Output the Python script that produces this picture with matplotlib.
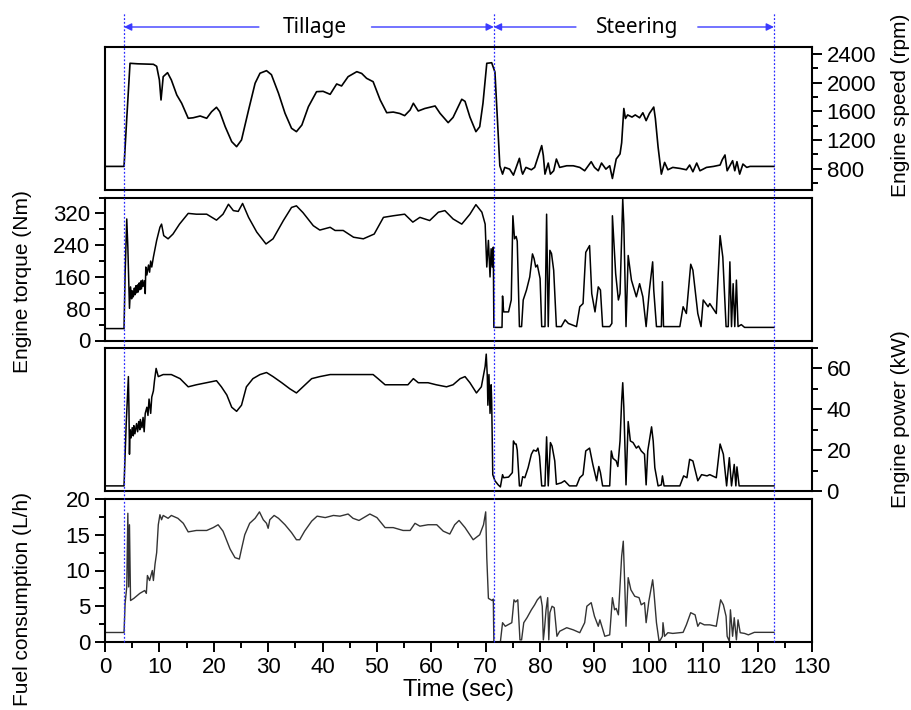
import numpy as np
import matplotlib
matplotlib.use('Agg')
import matplotlib.pyplot as plt
import matplotlib.transforms as mtransforms
from matplotlib.lines import Line2D
from matplotlib.patches import FancyArrowPatch
from matplotlib.ticker import MultipleLocator

# data (time in sec, value)
speed_pts = [(0, 830), (3.5, 830), (4.0, 1500), (4.6, 2272), (6.0, 2265), (7.5, 2262),
             (8.9, 2258), (9.5, 2230), (10.0, 2039), (10.3, 1759), (10.7, 2085), (11.5, 2141),
             (12.2, 2039), (13.2, 1829), (14.1, 1713), (15.3, 1503), (16.2, 1510), (17.5, 1535),
             (18.7, 1503), (19.6, 1595), (20.5, 1657), (21.1, 1595), (22.1, 1386), (23.3, 1176),
             (24.2, 1106), (25.1, 1200), (26.4, 1619), (27.6, 1993), (28.5, 2133), (29.7, 2169),
             (30.6, 2113), (31.9, 1853), (33.1, 1573), (34.3, 1363), (35.2, 1316), (36.2, 1409),
             (37.4, 1665), (38.9, 1875), (40.1, 1880), (41.4, 1838), (42.6, 1983), (43.5, 1955),
             (44.7, 2085), (46.3, 2155), (47.2, 2130), (48.1, 2062), (49.3, 2015), (50.6, 1759),
             (51.8, 1581), (53.0, 1590), (54.2, 1570), (55.1, 1540), (56.1, 1619), (56.7, 1713),
             (57.6, 1605), (58.8, 1640), (60.7, 1675), (61.6, 1573), (63.1, 1442), (64.0, 1515),
             (65.6, 1769), (66.2, 1740), (67.1, 1520), (68.2, 1316), (68.9, 1385), (69.5, 1713),
             (70.2, 2272), (71.1, 2280), (71.7, 2150), (72.6, 839), (73.1, 722), (73.5, 816),
             (74.4, 792), (75.1, 708), (75.6, 816), (76.2, 943), (76.6, 769), (76.8, 722),
             (77.4, 816), (78.4, 783), (79.0, 816), (79.7, 980), (80.3, 1121), (80.6, 980),
             (80.9, 722), (81.5, 877), (81.9, 722), (82.5, 769), (83.0, 933), (83.6, 816),
             (84.9, 839), (86.1, 839), (87.3, 816), (88.2, 769), (89.4, 896), (90.0, 816),
             (90.7, 769), (91.3, 877), (92.1, 792), (92.8, 839), (93.3, 661), (94.0, 933),
             (94.7, 1004), (95.0, 1160), (95.4, 1640), (95.7, 1500), (96.1, 1550), (96.9, 1520),
             (97.5, 1550), (98.3, 1510), (98.9, 1580), (99.5, 1470), (100.1, 1570), (100.9, 1660),
             (101.2, 1500), (101.7, 1100), (102.3, 722), (102.9, 886), (103.5, 783), (104.4, 816),
             (105.7, 802), (106.9, 783), (107.5, 849), (108.1, 755), (108.8, 877), (109.4, 769),
             (110.6, 816), (111.9, 830), (113.1, 849), (113.5, 924), (114.0, 990), (114.4, 769),
             (114.9, 839), (115.4, 910), (115.8, 769), (116.2, 896), (116.7, 722), (117.3, 863),
             (118.0, 816), (118.6, 830), (123.0, 830)]

torque_pts = [(0, 30), (3.5, 30), (3.7, 168), (4.0, 306), (4.2, 235), (4.5, 81), (4.7, 135),
              (4.9, 105), (5.0, 125), (5.2, 110), (5.4, 132), (5.5, 115), (5.7, 138), (5.8, 120),
              (6.0, 140), (6.1, 122), (6.3, 145), (6.4, 128), (6.6, 150), (6.7, 130), (6.9, 152),
              (7.0, 136), (7.3, 150), (7.4, 118), (7.5, 185), (7.7, 165), (8.0, 190), (8.2, 172),
              (8.4, 200), (8.6, 185), (8.9, 210), (9.5, 252), (10.1, 285), (10.4, 293),
              (10.8, 264), (11.6, 256), (12.5, 268), (13.7, 293), (15.3, 320), (16.8, 318),
              (18.7, 318), (20.5, 303), (21.7, 318), (22.7, 343), (23.6, 327), (24.5, 325),
              (25.3, 345), (26.4, 310), (27.9, 273), (29.1, 252), (29.6, 243), (30.9, 256),
              (32.8, 302), (34.3, 335), (35.2, 339), (36.4, 322), (38.3, 289), (39.5, 278),
              (41.4, 285), (42.3, 277), (43.8, 277), (45.7, 260), (47.5, 256), (49.5, 268),
              (51.2, 310), (53.0, 314), (55.1, 318), (56.6, 298), (57.9, 310), (59.7, 302),
              (61.3, 323), (62.5, 327), (64.0, 306), (65.6, 293), (67.1, 318), (68.2, 342),
              (69.3, 323), (69.9, 293), (70.2, 185), (70.5, 252), (70.8, 160), (71.0, 231),
              (71.2, 185), (71.4, 235), (71.5, 33), (73.0, 33), (73.1, 112), (73.3, 72),
              (74.2, 72), (74.7, 102), (75.0, 314), (75.3, 256), (75.6, 262), (75.8, 250),
              (76.2, 35), (76.6, 35), (76.9, 102), (77.5, 127), (78.1, 160), (78.6, 218),
              (78.9, 206), (79.2, 185), (79.5, 190), (80.0, 156), (80.3, 35), (80.9, 35),
              (81.2, 318), (81.5, 35), (81.8, 227), (82.1, 219), (82.5, 177), (83.0, 35),
              (83.9, 35), (84.6, 52), (85.2, 43), (86.7, 35), (87.3, 85), (87.9, 93), (88.4, 222),
              (89.1, 239), (89.5, 118), (90.1, 72), (90.7, 135), (91.1, 127), (91.5, 35),
              (92.8, 35), (93.2, 43), (93.3, 314), (93.9, 168), (94.4, 102), (94.7, 118),
              (95.2, 356), (95.4, 293), (95.8, 35), (96.2, 214), (96.8, 152), (97.7, 110),
              (98.3, 143), (98.9, 110), (99.5, 35), (100.1, 127), (100.7, 198), (100.9, 127),
              (101.4, 35), (102.3, 35), (102.5, 148), (102.7, 35), (105.7, 35), (106.3, 85),
              (106.9, 68), (107.7, 192), (108.1, 177), (109.0, 68), (109.6, 35), (110.0, 102),
              (110.9, 85), (111.2, 93), (112.4, 68), (113.1, 264), (113.6, 210), (114.2, 35),
              (114.6, 35), (114.9, 198), (115.2, 35), (115.5, 143), (115.8, 35), (116.1, 152),
              (116.4, 35), (117.0, 40), (117.6, 33), (123.0, 33)]

power_pts = [(0, 2.5), (3.5, 2.5), (3.9, 33), (4.3, 56), (4.4, 41), (4.5, 18), (4.6, 30),
             (4.8, 26), (5.0, 31), (5.2, 27), (5.3, 32), (5.5, 28), (5.8, 33), (6.0, 29),
             (6.2, 34), (6.4, 30), (6.5, 35), (6.8, 31), (7.0, 36), (7.2, 29), (7.4, 38),
             (7.7, 41), (7.9, 37), (8.1, 45), (8.4, 38), (8.6, 46), (8.9, 49), (9.1, 54),
             (9.4, 60), (9.8, 56), (10.7, 57), (12.2, 57), (13.8, 55), (15.3, 51), (16.8, 52),
             (18.7, 53), (20.5, 54), (21.4, 51), (22.4, 47), (23.3, 41), (24.2, 39), (25.1, 42),
             (26.0, 51), (27.2, 55), (28.5, 57), (29.7, 58), (30.9, 56), (32.5, 53), (34.0, 50),
             (35.2, 48), (36.4, 51), (38.0, 55), (39.5, 56), (41.4, 57), (43.2, 57), (44.7, 57),
             (46.9, 57), (49.3, 57), (50.2, 55), (51.5, 52), (53.0, 52), (54.5, 52), (55.7, 52),
             (56.7, 55), (57.6, 53), (59.4, 53), (60.9, 52), (62.8, 51), (64.0, 52), (65.3, 55),
             (66.2, 56), (67.1, 53), (68.3, 48), (69.2, 51), (69.9, 61), (70.1, 67), (70.3, 56),
             (70.4, 42), (70.6, 57), (70.8, 38), (71.0, 52), (71.1, 44), (71.3, 8), (71.7, 5),
             (72.3, 3), (72.7, 2), (73.1, 8), (73.3, 6.5), (74.2, 6.8), (74.9, 9), (75.1, 24.5),
             (75.4, 23), (75.6, 23), (75.8, 20), (76.2, 2.5), (76.5, 2.5), (76.8, 7), (77.2, 6.5),
             (77.8, 11.4), (78.4, 18), (78.8, 20), (79.3, 19.5), (79.6, 21), (79.9, 17),
             (80.3, 2.5), (80.9, 2.5), (81.2, 26.5), (81.5, 2.5), (81.9, 23.7), (82.2, 22),
             (82.7, 14.7), (83.0, 3.3), (83.9, 4), (84.5, 5), (85.4, 2.5), (86.7, 2.5),
             (87.3, 6.5), (87.9, 8), (88.4, 19.6), (89.1, 21), (89.7, 13), (90.4, 5), (90.8, 12),
             (91.1, 9), (91.5, 2.5), (92.8, 2.5), (93.1, 19.6), (93.4, 16), (94.0, 14.7),
             (94.3, 12), (94.7, 24.5), (95.0, 44), (95.2, 53), (95.4, 41), (95.8, 3), (96.2, 34),
             (96.6, 24.5), (97.1, 23.7), (97.7, 21), (98.1, 22), (98.6, 19.6), (99.2, 18),
             (99.5, 3), (99.8, 19.6), (100.5, 31.4), (100.8, 24.5), (101.1, 11.4), (101.7, 2.5),
             (102.3, 3), (102.5, 7.4), (102.8, 2.5), (105.7, 2.5), (106.4, 7.4), (107.0, 6.5),
             (107.5, 15.5), (108.1, 14.7), (109.0, 5), (109.7, 8), (110.7, 7.4), (111.2, 8),
             (112.4, 6.5), (113.1, 23), (113.7, 18), (114.3, 2.5), (114.8, 16.3), (115.2, 2.5),
             (115.7, 13), (116.0, 2.5), (116.2, 11.8), (116.6, 2.5), (117.3, 2.5), (123.0, 2.5)]

fuel_pts = [(0, 1.33), (3.5, 1.33), (3.7, 5.4), (4.0, 7.7), (4.2, 18.0), (4.35, 7.7), (4.5, 16.4),
            (4.7, 5.8), (5.3, 6.1), (6.4, 6.8), (7.3, 7.2), (7.6, 6.8), (7.8, 9.3), (8.2, 8.6),
            (8.7, 10.0), (8.9, 8.6), (9.2, 10.9), (9.5, 12.5), (9.8, 16.4), (10.1, 17.8),
            (10.4, 17.1), (10.7, 17.7), (11.6, 17.3), (12.2, 17.7), (13.4, 17.3), (14.4, 16.6),
            (15.3, 15.4), (16.8, 15.6), (18.7, 15.6), (19.9, 16.0), (20.8, 16.4), (21.7, 15.5),
            (23.0, 13.0), (23.9, 11.8), (24.7, 11.6), (25.1, 13.0), (25.7, 15.0), (26.6, 16.6),
            (27.6, 17.3), (28.4, 18.2), (29.1, 17.1), (29.7, 16.6), (30.0, 15.9), (30.3, 17.1),
            (31.1, 17.7), (31.9, 17.3), (33.1, 16.4), (34.3, 15.3), (35.2, 14.3), (35.8, 14.3),
            (36.7, 15.5), (38.0, 16.9), (39.0, 17.6), (40.5, 17.4), (42.0, 17.7), (43.2, 17.6),
            (44.7, 17.9), (45.6, 17.3), (46.7, 17.0), (47.6, 17.4), (48.7, 17.9), (50.0, 17.4),
            (51.5, 16.0), (53.0, 16.0), (54.8, 15.6), (56.1, 15.6), (57.0, 16.6), (57.9, 16.2),
            (59.4, 16.4), (61.0, 16.4), (62.2, 15.5), (63.4, 15.1), (64.3, 16.4), (65.1, 17.0),
            (66.2, 16.0), (67.7, 14.3), (68.9, 15.0), (69.6, 16.4), (70.0, 18.2), (70.2, 11.8),
            (70.5, 6.1), (71.2, 5.8), (71.4, 6.0), (71.5, 0), (72.7, 0), (73.1, 2.7), (73.6, 2.2),
            (74.8, 2.7), (75.2, 5.9), (75.5, 5.6), (75.9, 5.9), (76.3, 0.3), (76.6, 0.3),
            (77.0, 2.7), (77.6, 3.4), (78.4, 4.5), (79.0, 5.2), (79.5, 5.9), (80.1, 6.4),
            (80.4, 5.0), (80.6, 0.3), (80.8, 1.7), (81.1, 4.5), (81.4, 6.2), (81.6, 0.3),
            (81.8, 4.1), (82.2, 5.0), (82.6, 4.8), (83.1, 0.8), (83.6, 1.5), (84.9, 2.0),
            (86.1, 1.7), (87.3, 1.3), (88.2, 2.7), (88.6, 5.0), (89.4, 5.5), (90.0, 3.6),
            (90.7, 2.2), (91.0, 3.1), (91.9, 0.8), (92.8, 1.0), (93.3, 6.2), (93.7, 4.5),
            (94.0, 4.7), (94.4, 3.8), (94.7, 7.8), (95.0, 12.0), (95.3, 14.1), (95.6, 7.3),
            (95.8, 2.2), (96.2, 9.0), (96.7, 7.3), (97.4, 6.4), (98.2, 6.2), (98.6, 5.2),
            (99.2, 5.5), (99.5, 2.7), (100.0, 5.7), (100.7, 8.7), (100.9, 7.3), (101.4, 2.7),
            (101.9, 0), (102.5, 0.8), (102.6, 2.7), (102.9, 0.8), (103.5, 1.3), (104.4, 1.2),
            (106.3, 1.35), (106.9, 2.4), (107.7, 4.1), (108.5, 3.8), (109.0, 2.2), (109.4, 2.7),
            (110.2, 2.4), (111.2, 2.4), (112.4, 2.2), (113.2, 5.9), (113.7, 5.2), (114.2, 3.6),
            (114.4, 0.8), (114.8, 0.1), (115.0, 4.5), (115.4, 0.8), (115.7, 3.4), (116.1, 0.3),
            (116.4, 3.1), (116.8, 1.3), (117.6, 1.2), (118.3, 1.0), (119.4, 1.35), (123.0, 1.35)]

phase_bounds = [3.5, 71.5, 123.0]
phase_names = ['Tillage', 'Steering']
phase_text_x = [38.6, 97.8]
phase_gaps = [(28.3, 49.0), (86.6, 109.0)]

plt.rcParams['font.family'] = ['Liberation Sans', 'DejaVu Sans']
plt.rcParams['font.size'] = 16

fig = plt.figure(figsize=(9.12, 7.10), dpi=100)
left, width, h = 105/912, 707/912, 143/710
bottoms = [1 - 190/710, 1 - 340.5/710, 1 - 491/710, 1 - 642/710]
axes = [fig.add_axes([left, b, width, h]) for b in bottoms]

series = [speed_pts, torque_pts, power_pts, fuel_pts]
ylims = [(500, 2500), (0, 360), (0, 70), (0, 20)]
majors = [400, 80, 20, 5]
minors = [200, 40, 10, 2.5]
labels = ['Engine speed (rpm)', 'Engine torque (Nm)', 'Engine power (kW)',
          'Fuel consumption (L/h)']
sides = ['right', 'left', 'right', 'left']
label_y = [0.59, 0.41, 0.50, 0.30]
colors = ['black', 'black', 'black', '#333333']
lws = [1.2, 1.1, 1.1, 1.0]

for i, ax in enumerate(axes):
    t, v = np.array(series[i]).T
    ax.plot(t, v, color=colors[i], lw=lws[i])
    ax.set_xlim(0, 130)
    ax.set_ylim(*ylims[i])
    ax.yaxis.set_major_locator(MultipleLocator(majors[i]))
    ax.yaxis.set_minor_locator(MultipleLocator(minors[i]))
    ax.xaxis.set_major_locator(MultipleLocator(10))
    ax.xaxis.set_minor_locator(MultipleLocator(5))
    for s in ax.spines.values():
        s.set_linewidth(1.5)
    ax.tick_params(which='both', direction='out', width=1.4, labelsize=16)
    ax.tick_params(which='major', length=7)
    ax.tick_params(which='minor', length=4)
    ax.set_ylabel(labels[i], fontsize=15)
    if sides[i] == 'right':
        ax.yaxis.tick_right()
        ax.yaxis.set_label_position('right')
        ax.yaxis.set_label_coords(1.112, label_y[i])
    else:
        ax.yaxis.set_label_coords(-0.103, label_y[i])
    if i < 3:
        ax.tick_params(axis='x', which='both', bottom=False, labelbottom=False)

axes[1].set_yticks([0, 80, 160, 240, 320])
axes[3].set_xlabel('Time (sec)', fontsize=17, labelpad=1)

# phase markers
trans = mtransforms.blended_transform_factory(axes[3].transData, fig.transFigure)
for x in phase_bounds:
    fig.add_artist(Line2D([x, x], [bottoms[3], 0.983], transform=trans, color='#2b2bff',
                          lw=0.9, ls=(0, (1.5, 1.5)), zorder=5))
arrow_y = 1 - 27/710
for k in range(2):
    g0, g1 = phase_gaps[k]
    for a, b in [(g0, phase_bounds[k]), (g1, phase_bounds[k + 1])]:
        fig.add_artist(FancyArrowPatch((a, arrow_y), (b, arrow_y), transform=trans,
                                       arrowstyle='-|>', mutation_scale=11, color='#3b3bff',
                                       lw=1.0, shrinkA=0, shrinkB=0))
    fig.text(phase_text_x[k], arrow_y, phase_names[k], transform=trans, ha='center',
             va='center', family=['Noto Sans', 'DejaVu Sans'], fontsize=15)

fig.savefig('out.png', dpi=100)
